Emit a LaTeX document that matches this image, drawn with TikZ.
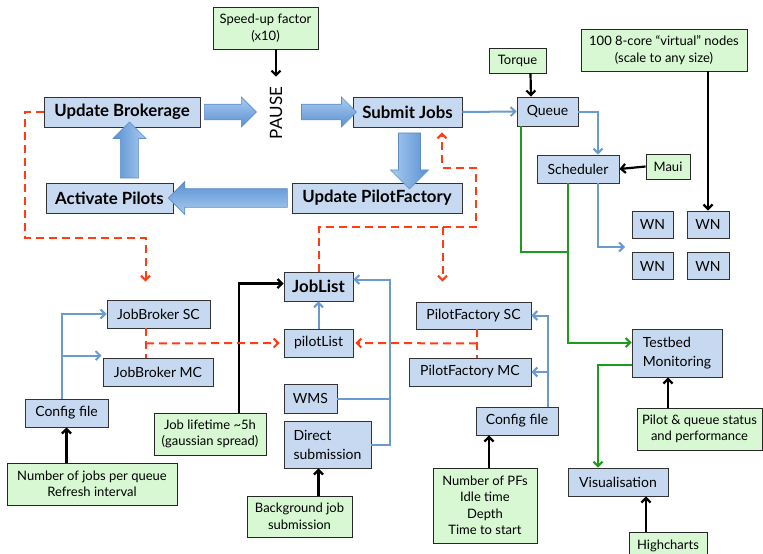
\documentclass[tikz,border=0pt]{standalone}
\usepackage{fontspec}
\setmainfont{Lato}
\usetikzlibrary{arrows.meta,calc,shapes.arrows}

\definecolor{boxblue}{HTML}{C6D9F0}
\definecolor{notegreen}{HTML}{D7F8D2}
\definecolor{lineblue}{HTML}{6A9BD0}
\definecolor{linegreen}{HTML}{1E9A1E}
\definecolor{linered}{HTML}{FF3C14}
\definecolor{arrlight}{HTML}{A9CBF0}
\definecolor{arrdark}{HTML}{5991D2}
\definecolor{arredge}{HTML}{5E8CC4}

\tikzset{
  box/.style={draw=black!80, fill=boxblue, line width=0.9pt, inner sep=0pt, font=\fontsize{14}{19}\selectfont},
  bigbox/.style={box, minimum height=30pt, font=\fontsize{16.8}{19}\selectfont\bfseries},
  note/.style={draw=black!85, fill=notegreen, line width=0.9pt, inner sep=0pt, align=center, font=\fontsize{13}{16.5}\selectfont},
  tip/.style={-{Straight Barb[length=4.5pt,width=9pt]}},
  blackarr/.style={draw=black, line width=2.2pt, tip},
  blueline/.style={draw=lineblue, line width=2pt},
  bluearr/.style={blueline, tip},
  greenline/.style={draw=linegreen, line width=2pt},
  greenarr/.style={greenline, tip},
  redline/.style={draw=linered, line width=2pt, dash pattern=on 8pt off 5pt},
  redarr/.style={redline, tip},
  blockarr/.style={single arrow, draw=arredge, line width=0.6pt, inner xsep=0pt}
}

\begin{document}
\begin{tikzpicture}[x=1pt,y=-1pt]
\useasboundingbox (0,0) rectangle (763,554);

% main loop
\node[bigbox, minimum width=156pt] (brok) at (122,112) {Update Brokerage};
\node[bigbox, minimum width=109pt] (submit) at (407.5,112) {Submit Jobs};
\node[bigbox, minimum width=170pt] (upf) at (377,198) {Update PilotFactory};
\node[bigbox, minimum width=127pt] (act) at (109.5,198) {Activate Pilots};
\node[rotate=90, inner xsep=10pt, font=\fontsize{17}{17}\selectfont] (pause) at (276,113) {PAUSE};
\node[note, minimum width=105pt, minimum height=42pt] (speed) at (265.5,28) {Speed-up factor\\(x10)};

\node[blockarr, inner ysep=7.5pt, minimum width=27pt, minimum height=52pt, top color=arrlight, bottom color=arrdark] at ($(brok.east)+(26,0)$) {};
\node[blockarr, inner ysep=7.5pt, minimum width=27pt, minimum height=55pt, top color=arrlight, bottom color=arrdark] at ($(submit.west)+(-27.5,0)$) {};
\node[blockarr, inner ysep=9.5pt, minimum width=38pt, minimum height=56pt, rotate=-90, left color=arrlight, right color=arrdark] at ($(submit.south)+(2,28)$) {};
\node[blockarr, inner ysep=9pt, minimum width=32pt, minimum height=119pt, rotate=180, top color=arrdark, bottom color=arrlight] at ($(upf.west)!0.5!(act.east)$) {};
\node[blockarr, inner ysep=8.5pt, minimum width=33pt, minimum height=56pt, rotate=90, left color=arrdark, right color=arrlight] at ($(act.north)+(20,-28)$) {};

\draw[blackarr] (speed.south -| pause.center) -- (pause.east);

% batch system
\node[note, minimum width=57pt, minimum height=25pt] (torque) at (517.5,60.5) {Torque};
\node[box, minimum width=61pt, minimum height=29pt] (queue) at (547.5,111.5) {Queue};
\node[box, minimum width=82pt, minimum height=28pt] (sched) at (578,169) {Scheduler};
\node[note, minimum width=44pt, minimum height=25pt] (maui) at (668,166.5) {Maui};
\node[note, minimum width=166pt, minimum height=42pt] (virt) at (664,50) {100 8-core “virtual” nodes\\(scale to any size)};
\node[box, minimum width=41pt, minimum height=27pt] (wn1) at (652.5,224.5) {WN};
\node[box, minimum width=42pt, minimum height=27pt] (wn2) at (708,224.5) {WN};
\node[box, minimum width=41pt, minimum height=27pt] (wn3) at (652.5,266) {WN};
\node[box, minimum width=42pt, minimum height=27pt] (wn4) at (708,266) {WN};
\coordinate (wnin) at (625,247);

\draw[bluearr] (submit.east) -- (queue.west);
\draw[blackarr] ($(torque.south)+(13,0)$) -- ($(queue.north)+(-16.5,0)$);
\draw[bluearr] (queue.east) -| ($(sched.north)+(20,0)$);
\draw[blackarr] (maui.west) -- (sched.east);
\draw[bluearr] ($(sched.south)+(20,0)$) |- (wnin);
\draw[blackarr] (wn2.north |- virt.south) -- (wn2.north);

% brokerage side
\node[box, minimum width=103pt, minimum height=28pt] (jbsc) at (158.5,314) {JobBroker SC};
\node[box, minimum width=110pt, minimum height=28pt] (jbmc) at (158,372) {JobBroker MC};
\node[box, minimum width=83pt, minimum height=28pt] (cfgl) at (66.5,413) {Config file};
\node[note, minimum width=170pt, minimum height=42pt] (njobs) at (92,484) {Number of jobs per queue\\Refresh interval};
\coordinate (jbmcin) at ($(jbmc.north west)+(-1,-2)$);

\draw[bluearr] ($(cfgl.north)+(-4.5,0)$) |- (jbsc.west);
\draw[bluearr] ($(cfgl.north)+(-4.5,0)$) |- (jbmcin);
\draw[blackarr] (njobs.north -| cfgl.south) -- (cfgl.south);

% job lists
\node[bigbox, minimum width=69pt, minimum height=29pt] (joblist) at (318.5,286.5) {JobList};
\node[box, minimum width=69pt, minimum height=28pt] (pilotlist) at (318.5,343) {pilotList};
\node[box, minimum width=53pt, minimum height=29pt] (wms) at (310.5,398.5) {WMS};
\node[box, minimum width=87pt, minimum height=47pt, align=left] (direct) at (327.5,444.5) {Direct\\submission};
\node[note, minimum width=112pt, minimum height=42pt] (life) at (210,434) {Job lifetime \textasciitilde5h\\(gaussian spread)};
\node[note, minimum width=105pt, minimum height=41pt] (bg) at (299.5,516.5) {Background job\\submission};
\coordinate (jlin) at ($(joblist.east)+(0,-7)$);

\draw[bluearr] (pilotlist.north) -- (joblist.south);
\draw[blueline] (wms.east) -- ++(53,0);
\draw[bluearr] (direct.east) -- ++(18.5,0) |- (jlin);
\draw[blackarr] ($(life.north)+(29,0)$) |- ($(joblist.west)+(0,-3)$);
\draw[blackarr] (bg.north -| joblist) -- (direct.south -| joblist);

% pilot factory side
\node[box, minimum width=115pt, minimum height=27pt] (pfsc) at (473.5,315.5) {PilotFactory SC};
\node[box, minimum width=122pt, minimum height=28pt] (pfmc) at (470,372) {PilotFactory MC};
\node[box, minimum width=82pt, minimum height=28pt] (cfgr) at (517,421) {Config file};
\node[note, minimum width=104pt, minimum height=75pt] (npf) at (485,505.5) {Number of PFs\\Idle time\\Depth\\Time to start};

\draw[bluearr] ($(cfgr.north)+(31,0)$) |- (pfsc.east);
\draw[bluearr] ($(cfgr.north)+(31,0)$) |- (pfmc.east);
\draw[blackarr] ($(npf.north)+(4,0)$) -- ($(cfgr.south)+(-28,0)$);

% monitoring
\node[box, minimum width=90pt, minimum height=48pt, align=left] (testbed) at (677,353) {Testbed\\Monitoring};
\node[note, minimum width=125pt, minimum height=42pt] (pilotq) at (699.5,429) {Pilot \& queue status\\and performance};
\node[box, minimum width=100pt, minimum height=28pt] (vis) at (618,482) {Visualisation};
\node[note, minimum width=78pt, minimum height=28pt] (high) at (668,546) {Highcharts};
\coordinate (tbin) at ($(testbed.north west)+(0,14)$);

\draw[greenline] ($(queue.south west)+(4,0)$) |- ($(sched.south)+(-10,69)$);
\draw[greenarr] ($(sched.south)+(-10,0)$) |- (tbin);
\draw[greenarr] ($(testbed.south west)+(0,-12)$) -| ($(vis.north)+(-20,0)$);
\draw[blackarr] ($(pilotq.north)+(-31.5,0)$) -- ($(testbed.south)+(-9,0)$);
\draw[blackarr] ($(high.north)+(-22,0)$) -- ($(vis.south)+(28,0)$);

% dashed links
\coordinate (jbin) at ($(jbsc.north)+(-13,-18)$);
\coordinate (subin) at ($(submit.south)+(34.5,5)$);
\coordinate (pfin) at ($(pfsc.north)+(-31,-20)$);
\draw[redarr] (brok.west) -- ++(-19,0) |- ($(jbin)+(0,-44)$) -- (jbin);
\draw[redarr] (joblist.north) -- ++(0,-45) -| ++(157,-59) -| (subin);
\draw[redarr] ($(pfin)+(0,-55)$) -- (pfin);
\draw[redline] ($(jbsc.south)+(-12.5,0)$) -- ($(jbmc.north)+(-12,0)$);
\draw[redarr, shorten >=4pt] ($(jbsc.south)+(-12.5,15)$) -- (pilotlist.west);
\draw[redline] ($(pfsc.south)+(3.5,0)$) -- ($(pfmc.north)+(7,0)$);
\draw[redarr, shorten >=2pt] ($(pfsc.south)+(3.5,14)$) -- (pilotlist.east);
\end{tikzpicture}
\end{document}
